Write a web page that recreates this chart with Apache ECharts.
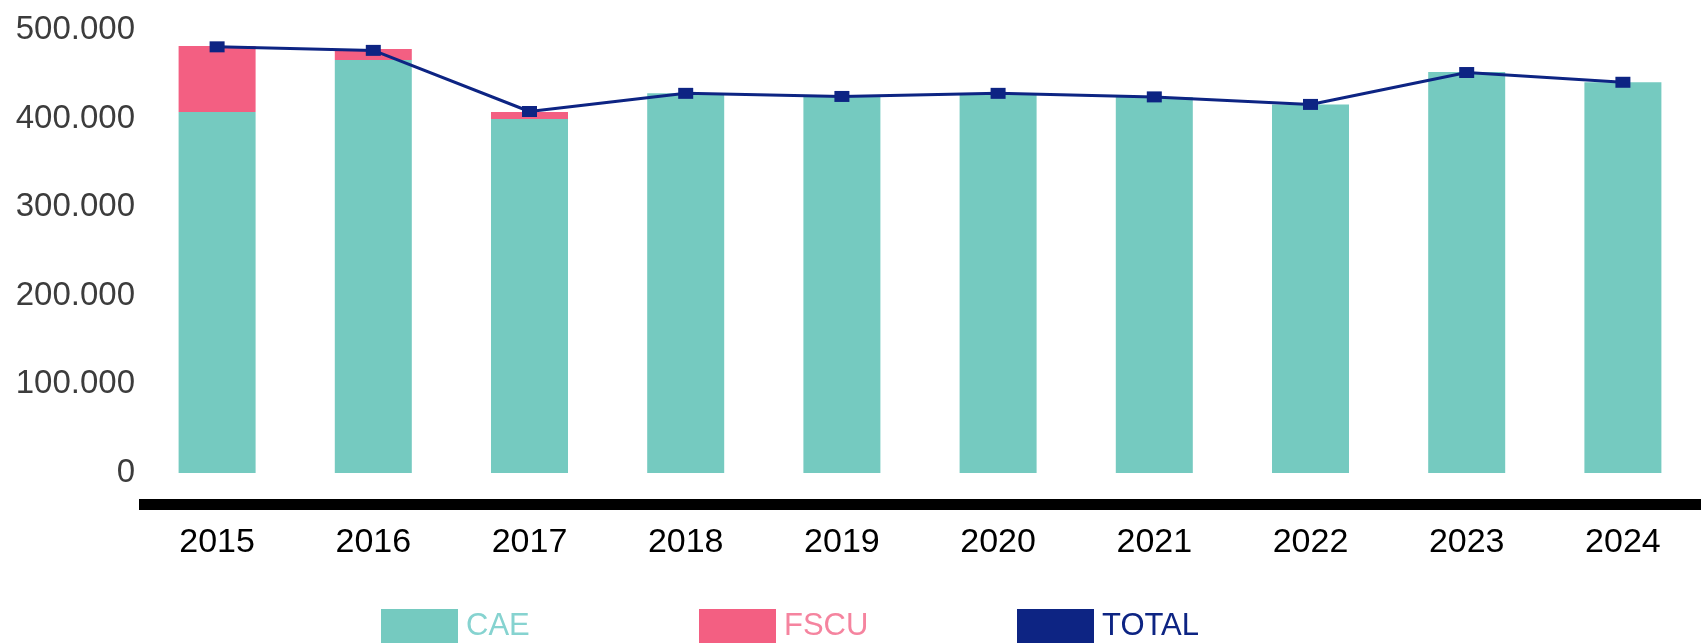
<!DOCTYPE html>
<html>
<head>
<meta charset="utf-8">
<title>CAE / FSCU</title>
<script src="https://cdn.jsdelivr.net/npm/echarts@6/dist/echarts.min.js"></script>
<style>
    html, body { margin: 0; padding: 0; background: #fff; }
    #main { width: 1701px; height: 643px; }
</style>
</head>
<body>
<div id="main"></div>
<script>
// data
var years = ['2015', '2016', '2017', '2018', '2019', '2020', '2021', '2022', '2023', '2024'];
var cae = [407500, 466000, 399500, 428500, 425000, 428500, 424500, 416000, 452500, 441000];
var fscu = [74500, 12500, 8000, 0, 0, 0, 0, 0, 0, 0];
var total = [481000, 477000, 408000, 428500, 425000, 428500, 424500, 416000, 452000, 441000];
var yTicks = [0, 100000, 200000, 300000, 400000, 500000];

var cTeal = '#75cac0';
var cPink = '#f35f82';
var cNavy = '#0d2483';

// 500000 -> "500.000"
function fmt(v) {
    if (v === 0) return '0';
    return String(v).replace(/\B(?=(\d{3})+(?!\d))/g, '.');
}

function legendItem(name, left, color, textColor) {
    return {
        data: [{ name: name, icon: 'rect', itemStyle: { color: color } }],
        left: left,
        top: 609,
        padding: 0,
        itemWidth: 77,
        itemHeight: 34,
        selectedMode: false,
        textStyle: {
            fontSize: 31,
            fontFamily: 'Liberation Sans',
            color: textColor,
            padding: [0, 0, 0, 3]
        }
    };
}

var myChart = echarts.init(document.getElementById('main'));
var option = {
    animation: false,
    backgroundColor: '#fff',
    grid: { left: 139, right: -22, top: 30, bottom: 170 },
    legend: [
        legendItem('CAE', 381, cTeal, '#86d3d0'),
        legendItem('FSCU', 699, cPink, '#f5849f'),
        legendItem('TOTAL', 1017, cNavy, cNavy)
    ],
    xAxis: {
        type: 'category',
        data: years,
        offset: 31.5,
        axisLine: { show: true, onZero: false, lineStyle: { color: '#000', width: 11, cap: 'butt' } },
        axisTick: { show: false },
        axisLabel: {
            margin: 21,
            fontSize: 34,
            fontFamily: 'Liberation Sans',
            color: '#000'
        }
    },
    yAxis: {
        type: 'value',
        min: yTicks[0],
        max: yTicks[yTicks.length - 1],
        interval: yTicks[1] - yTicks[0],
        axisLine: { show: false },
        axisTick: { show: false },
        splitLine: { show: false },
        axisLabel: {
            margin: 4,
            fontSize: 33,
            fontFamily: 'Liberation Sans',
            color: '#3c3c3c',
            formatter: fmt
        }
    },
    series: [{
        name: 'CAE',
        type: 'bar',
        stack: 'tot',
        barWidth: 77,
        itemStyle: { color: cTeal },
        data: cae
    }, {
        name: 'FSCU',
        type: 'bar',
        stack: 'tot',
        barWidth: 77,
        itemStyle: { color: cPink },
        data: fscu
    }, {
        name: 'TOTAL',
        type: 'line',
        symbol: 'rect',
        symbolSize: [15, 11],
        itemStyle: { color: cNavy },
        lineStyle: { color: cNavy, width: 3 },
        z: 5,
        data: total
    }]
};
myChart.setOption(option);
</script>
</body>
</html>
